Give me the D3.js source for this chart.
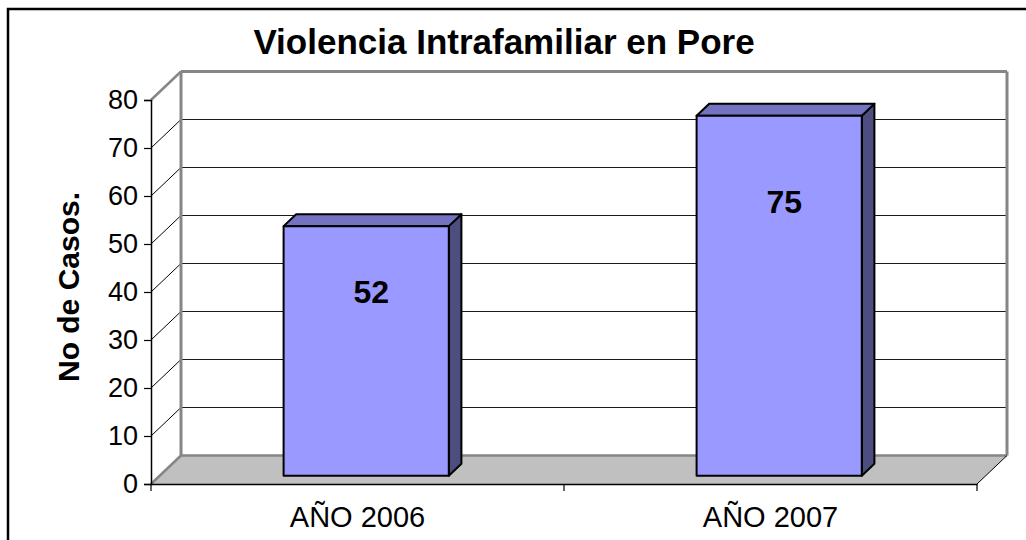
<!DOCTYPE html>
<html><head><meta charset="utf-8">
<script src="https://cdn.jsdelivr.net/npm/d3@7/dist/d3.min.js"></script>
<style>html,body{margin:0;padding:0;background:#fff;}svg{display:block;}</style>
</head><body>
<script>
const title = "Violencia Intrafamiliar en Pore";
const yTitle = "No de Casos.";
const categories = ["AÑO 2006", "AÑO 2007"];
const values = [52, 75];
const yTicks = [0, 10, 20, 30, 40, 50, 60, 70, 80];

const W = 1026, H = 540;
const svg = d3.select("body").append("svg").attr("width", W).attr("height", H)
  .style("font-family", "'Liberation Sans', Arial, sans-serif");

// outer frame
svg.append("rect").attr("x", 8).attr("y", 9).attr("width", 1030).attr("height", 545)
  .attr("fill", "none").attr("stroke", "#000").attr("stroke-width", 2.5);

const plotL = 151, plotR = 977, plotB = 484, plotT = 100;
const DX = 30, DY = -28.5;
const y = d3.scaleLinear().domain([0, 80]).range([plotB, plotT]);
const x = d3.scaleBand().domain(categories).range([plotL, plotR]).padding(0);
const P = (px, v, f) => [px + DX * f, y(v) + DY * f];

// floor
const floor = [P(plotL, 0, 0), P(plotR, 0, 0), P(plotR, 0, 1), P(plotL, 0, 1)];
svg.append("polygon").attr("points", floor.map(p => p.join(",")).join(" "))
  .attr("fill", "#c0c0c0").attr("stroke", "none");

// back wall gridlines
svg.append("g").selectAll("line").data(yTicks.filter(t => t > 0 && t < 80)).join("line")
  .attr("x1", d => P(plotL, d, 1)[0]).attr("y1", d => P(plotL, d, 1)[1])
  .attr("x2", d => P(plotR, d, 1)[0]).attr("y2", d => P(plotR, d, 1)[1])
  .attr("stroke", "#1a1a1a").attr("stroke-width", 1.2);
// diagonals on side wall
svg.append("g").selectAll("line").data(yTicks.filter(t => t > 0 && t < 80)).join("line")
  .attr("x1", d => P(plotL, d, 0)[0]).attr("y1", d => P(plotL, d, 0)[1])
  .attr("x2", d => P(plotL, d, 1)[0]).attr("y2", d => P(plotL, d, 1)[1])
  .attr("stroke", "#000").attr("stroke-width", 1);

// wall edges (gray)
const gray = "#868686";
const edge = (a, b, w) => svg.append("line").attr("x1", a[0]).attr("y1", a[1]).attr("x2", b[0]).attr("y2", b[1])
  .attr("stroke", gray).attr("stroke-width", w);
edge(P(plotL, 0, 1), P(plotL, 80, 1), 3);
edge(P(plotL, 80, 1), P(plotR, 80, 1), 3);
edge(P(plotR, 80, 1), P(plotR, 0, 1), 3);
edge(P(plotL, 0, 1), P(plotR, 0, 1), 2.5);
edge(P(plotL, 0, 0), P(plotL, 0, 1), 2.5);
edge(P(plotL, 80, 0), P(plotL, 80, 1), 2.5);
svg.append("line").attr("x1", P(plotR, 0, 0)[0]).attr("y1", P(plotR, 0, 0)[1])
  .attr("x2", P(plotR, 0, 1)[0]).attr("y2", P(plotR, 0, 1)[1]).attr("stroke", "#000").attr("stroke-width", 1);

// bars
const f0 = 0.29, f1 = 0.71, barFrac = 0.4;
const bars = svg.append("g");
categories.forEach((c, i) => {
  const v = values[i];
  const bw = x.bandwidth() * barFrac;
  const x0 = x(c) + (x.bandwidth() - bw) / 2, x1 = x0 + bw;
  const ftl = P(x0, v, f0), ftr = P(x1, v, f0), fbr = P(x1, 0, f0), fbl = P(x0, 0, f0);
  const btl = P(x0, v, f1), btr = P(x1, v, f1), bbr = P(x1, 0, f1);
  const poly = (pts, fill) => bars.append("polygon").attr("points", pts.map(p => p.join(",")).join(" "))
    .attr("fill", fill).attr("stroke", "#000").attr("stroke-width", 2).attr("stroke-linejoin", "round");
  poly([ftr, btr, bbr, fbr], "#4d4d80");
  poly([ftl, ftr, btr, btl], "#7373bf");
  poly([ftl, ftr, fbr, fbl], "#9999ff");
  const cx = (ftl[0] + ftr[0]) / 2 + 5;
  const hgt = fbl[1] - ftl[1];
  const ly = ftl[1] + 0.185 * hgt + 30.5;
  bars.append("text").attr("x", cx).attr("y", ly).attr("text-anchor", "middle")
    .attr("font-size", 32).attr("font-weight", "bold").attr("fill", "#000").text(v);
});

// y axis (front)
const yAxis = d3.axisLeft(y).tickValues(yTicks).tickSize(7).tickPadding(6);
const gy = svg.append("g").attr("transform", `translate(${plotL},0)`).call(yAxis);
gy.select(".domain").attr("stroke", "#000").attr("stroke-width", 1.5);
gy.selectAll(".tick line").attr("stroke", "#000").attr("stroke-width", 1.2);
gy.selectAll(".tick text").attr("font-size", 27).attr("fill", "#000")
  .style("font-family", "'Liberation Sans', Arial, sans-serif");

// x axis (front)
const xAxis = d3.axisBottom(x).tickSize(0).tickPadding(22);
const gx = svg.append("g").attr("transform", `translate(0,${plotB})`).call(xAxis);
gx.select(".domain").attr("stroke", "#000").attr("stroke-width", 1.5);
gx.selectAll(".tick text").attr("font-size", 29).attr("fill", "#000").attr("dy", "0.71em")
  .style("font-family", "'Liberation Sans', Arial, sans-serif");
// category separators ticks
const seps = [plotL, ...categories.slice(1).map(c => x(c)), plotR];
svg.append("g").selectAll("line").data(seps).join("line")
  .attr("x1", d => d).attr("x2", d => d).attr("y1", plotB).attr("y2", plotB + 7)
  .attr("stroke", "#000").attr("stroke-width", 1.2);

// titles
svg.append("text").attr("x", 504).attr("y", 54).attr("text-anchor", "middle")
  .attr("font-size", 35).attr("font-weight", "bold").attr("fill", "#000").text(title);
svg.append("text").attr("transform", "translate(79,287) rotate(-90)").attr("text-anchor", "middle")
  .attr("font-size", 30).attr("font-weight", "bold").attr("fill", "#000").text(yTitle);
</script>
</body></html>
